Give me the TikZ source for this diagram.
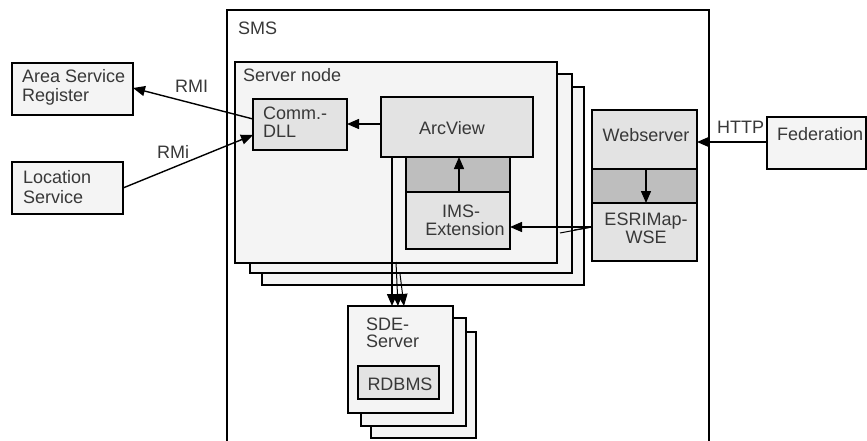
\documentclass[tikz,border=0pt]{standalone}
\usepackage{fontspec}
\setmainfont{Liberation Sans}
\usetikzlibrary{arrows.meta}
\definecolor{outerfill}{HTML}{F4F4F4}
\definecolor{innerfill}{HTML}{E3E3E3}
\definecolor{bandfill}{HTML}{BEBEBE}
\definecolor{txt}{HTML}{383838}
\newcommand\bx[6]{\node[#1, minimum width={#4-#2}, minimum height={#5-#3}] (#6) at (#2,#3) {};}
\begin{document}
\begin{tikzpicture}[x=1pt,y=-1pt,
  frame/.style={draw=black, line width=1.4pt, anchor=north west, inner sep=0pt, outer sep=0pt},
  obox/.style={frame, fill=outerfill},
  ibox/.style={frame, fill=innerfill},
  band/.style={frame, fill=bandfill},
  lbl/.style={text=txt, font=\fontsize{18}{20}\selectfont, inner sep=0pt},
  conn/.style={draw=black, line width=1.4pt, -{Triangle[length=12pt,width=10pt]}},
  plain/.style={draw=black, line width=1pt}
]
\useasboundingbox (0,0) rectangle (867,441);
% SMS
\bx{frame, fill=white}{227}{10}{709}{460}{sms}
\node[lbl, anchor=base west] (tsms) at (238,35) {SMS};
% server node stack
\bx{obox}{262}{87}{584}{285}{sn3}
\bx{obox}{250}{74}{572}{273}{sn2}
\bx{obox}{235}{62}{557}{263}{sn1}
\node[lbl, anchor=base west] (tsn) at (243,82) {Server node};
% Comm.-DLL
\bx{ibox}{253}{99}{347}{150}{dll}
\node[lbl, anchor=base west] (tdll1) at (263,120) {Comm.-};
\node[lbl, anchor=base west] (tdll2) at (263,138) {DLL};
% ArcView
\bx{ibox}{381}{97}{533}{157}{arc}
\node[lbl, anchor=base] (tarc) at (452,135) {ArcView};
\bx{band}{406}{157}{510}{192}{imsband}
\bx{ibox}{406}{192}{510}{249}{ims}
\node[lbl, anchor=base] (tims1) at (461,217) {IMS-};
\node[lbl, anchor=base] (tims2) at (465,235) {Extension};
% Webserver stack
\bx{ibox}{592}{110}{697}{169}{web}
\node[lbl, anchor=base] (tweb) at (646,142) {Webserver};
\bx{band}{592}{169}{697}{203}{webband}
\bx{ibox}{592}{203}{697}{261}{esri}
\node[lbl, anchor=base] (tesri1) at (646,225) {ESRIMap-};
\node[lbl, anchor=base] (tesri2) at (646,243) {WSE};
% SDE stack
\bx{obox}{371}{332}{476}{438}{sde3}
\bx{obox}{361}{318}{466}{426}{sde2}
\bx{obox}{348}{306}{453}{413}{sde1}
\node[lbl, anchor=base west] (tsde1) at (366,330) {SDE-};
\node[lbl, anchor=base west] (tsde2) at (366,347) {Server};
\bx{ibox}{358}{366}{439}{399}{rdb}
\node[lbl, anchor=base] (trdb) at (400,390) {RDBMS};
% outside boxes
\bx{obox}{12}{63}{133}{115}{asr}
\node[lbl, anchor=base west] (tasr1) at (22,83) {Area Service};
\node[lbl, anchor=base west] (tasr2) at (22,102) {Register};
\bx{obox}{12}{162}{123}{214}{loc}
\node[lbl, anchor=base west] (tloc1) at (23,183) {Location};
\node[lbl, anchor=base west] (tloc2) at (23,203) {Service};
\bx{obox}{767}{117}{866}{169}{fed}
\node[lbl, anchor=base west] (tfed) at (777,140) {Federation};
% connectors
\coordinate (dllA) at (253,119);
\coordinate (asrA) at (133,88);
\draw[conn] (dllA) -- (asrA);
\node[lbl, anchor=base west] (trmi1) at (175,93) {RMI};
\coordinate (locA) at (123,188);
\coordinate (dllB) at (253,135);
\draw[conn] (locA) -- (dllB);
\node[lbl, anchor=base west] (trmi2) at (157,158) {RMi};
\draw[conn] (arc.west |- 0,124) -- (dll.east |- 0,124);
\draw[conn] (459,192) -- (459,157);
\draw[conn] (646,169) -- (646,203);
\coordinate (fedA) at (767,142);
\coordinate (webA) at (697,142);
\draw[conn] (fedA) -- (webA);
\node[lbl, anchor=base west] (thttp) at (717,133) {HTTP};
\coordinate (esriA) at (592,227);
\coordinate (imsA) at (510,227);
\draw[conn] (esriA) -- (imsA);
\draw[plain] (esriA) -- (574,230);
\draw[plain] (esriA) -- (560,233);
% to SDE
\draw[conn] (392,157) -- (392,306);
\draw[conn, line width=1pt] (396,262) -- (398,306);
\draw[conn, line width=1pt] (400,274) -- (404,306);
\end{tikzpicture}
\end{document}
